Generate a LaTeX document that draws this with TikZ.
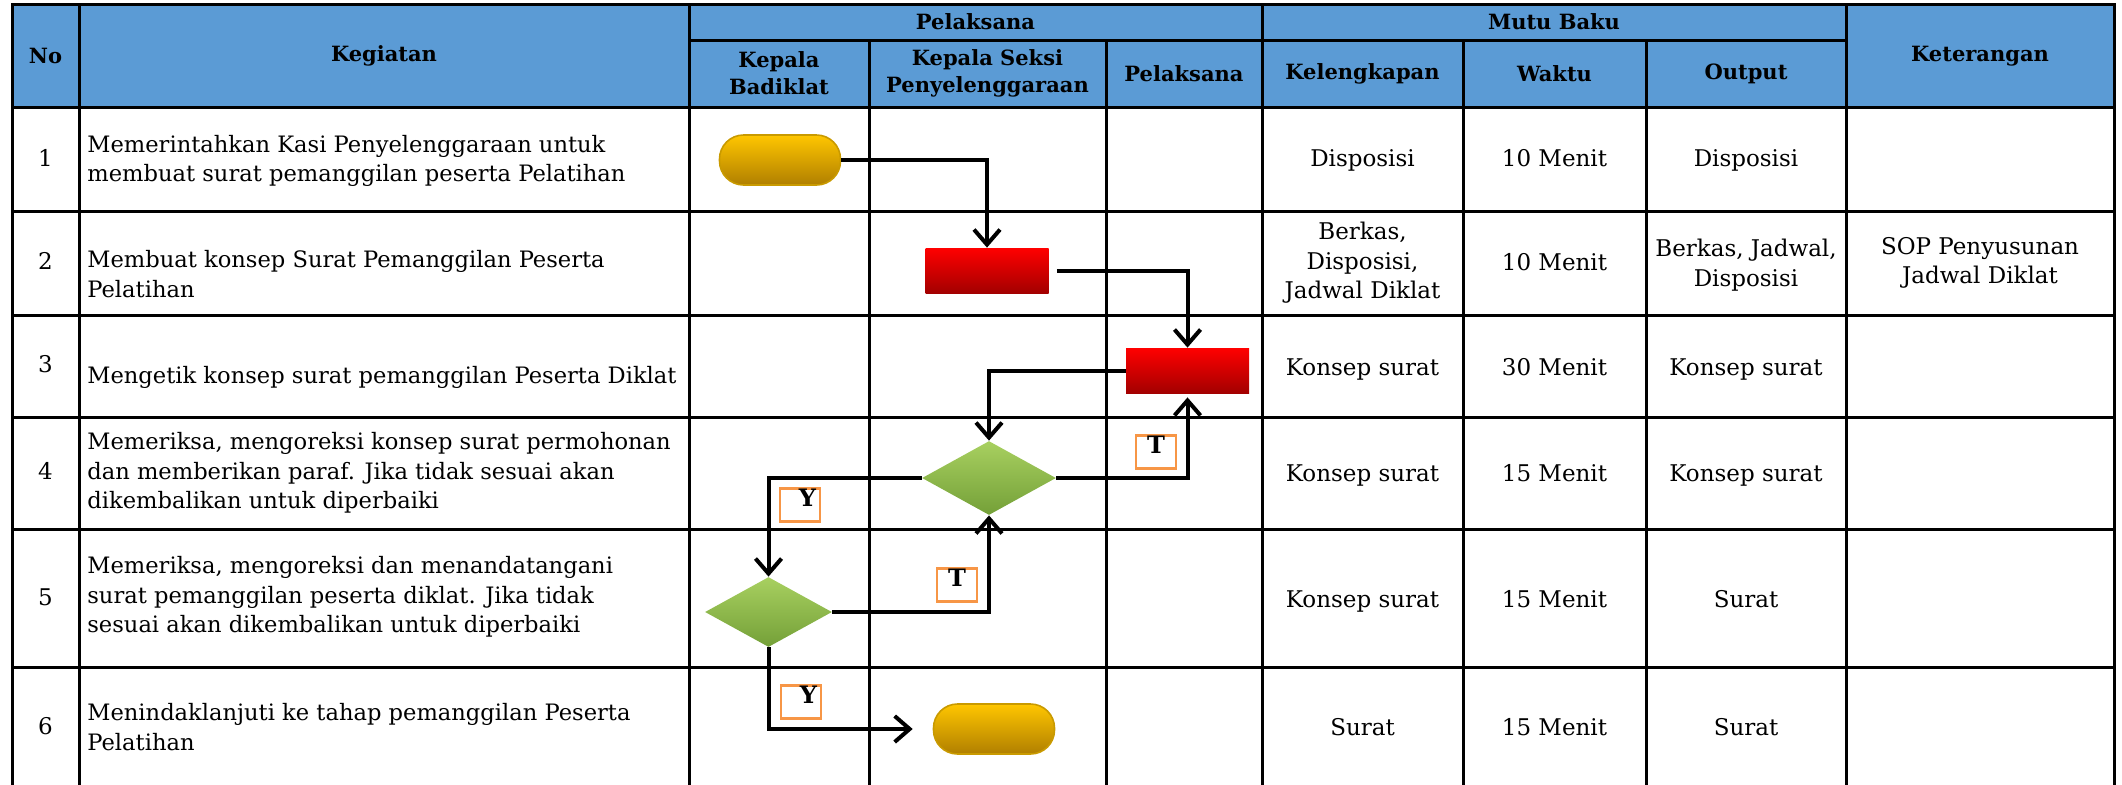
\documentclass[tikz,border=0pt]{standalone}
\usepackage{fontspec}
\setmainfont{DejaVu Serif}
\usetikzlibrary{arrows.meta,positioning,shapes.geometric,shapes.misc,calc}
\definecolor{cHead}{HTML}{5B9BD5}
\definecolor{cGoldTop}{HTML}{FFC600}
\definecolor{cGoldBot}{HTML}{B07F00}
\definecolor{cGoldLine}{HTML}{C99A00}
\definecolor{cRedTop}{HTML}{FF0000}
\definecolor{cRedBot}{HTML}{A30000}
\definecolor{cGreenTop}{HTML}{A8D060}
\definecolor{cGreenBot}{HTML}{74A038}
\definecolor{cTag}{HTML}{F79646}
\tikzset{
  tabline/.style={line width=1.5pt, line cap=rect},
  hd/.style={font=\fontsize{10.5}{13.5}\selectfont\bfseries, align=center, inner sep=0pt},
  txt/.style={font=\fontsize{11.3}{14.8}\selectfont, align=left, anchor=west, inner sep=0pt},
  cell/.style={font=\fontsize{11.5}{14.8}\selectfont, align=center, inner sep=0pt},
  cellone/.style={cell, text height=9pt, text depth=2pt},
}
\begin{document}
\begin{tikzpicture}[
  x=0.5pt, y=-0.5pt,
  term/.style={rectangle, rounded corners=12pt, minimum width=60.5pt, minimum height=25pt,
    top color=cGoldTop, bottom color=cGoldBot, draw=cGoldLine, line width=0.8pt},
  proc/.style={rectangle, minimum width=61.5pt, minimum height=22.5pt,
    top color=cRedTop, bottom color=cRedBot},
  dec/.style={diamond, inner sep=0pt, minimum width=67pt, minimum height=37pt,
    top color=cGreenTop, bottom color=cGreenBot},
  flow/.style={line width=2pt, -{Straight Barb[length=7.5pt, width=13pt]}},
  tagbox/.style={draw=cTag, line width=1.3pt, font=\fontsize{12}{12}\selectfont\bfseries,
    text width=16pt, inner xsep=2pt, inner ysep=0.3pt, text height=8.8pt, text depth=7pt},
]
\useasboundingbox (0,0) rectangle (2122,784);
% ---------------------------------------------------------------- table
\fill[cHead] (12,4) rectangle (2114,107);
\draw[tabline] (12,4) -- (2114,4);
\draw[tabline] (689,40) -- (1846,40);
\foreach \y in {107,211,315,417,529,667}
  \draw[tabline] (12,\y) -- (2114,\y);
\foreach \x in {12,79,689,1262,1846,2114}
  \draw[tabline] (\x,4) -- (\x,784);
\foreach \x in {869,1106,1463,1646}
  \draw[tabline] (\x,40) -- (\x,784);
% ---------------------------------------------------------------- header
\node[hd] (hNo) at (45.5,56) {No};
\node[hd] (hKeg) at (384,56) {Kegiatan};
\node[hd] (hPel) at (975.5,22) {Pelaksana};
\node[hd] (hMutu) at (1554,22) {Mutu Baku};
\node[hd] (hKB) at (779,73.5) {Kepala\\Badiklat};
\node[hd] (hKS) at (987.5,73.5) {Kepala Seksi\\Penyelenggaraan};
\node[hd] (hPl) at (1184,73.5) {Pelaksana};
\node[hd] (hKel) at (1362.5,73.5) {Kelengkapan};
\node[hd] (hWkt) at (1554.5,73.5) {Waktu};
\node[hd] (hOut) at (1746,73.5) {Output};
\node[hd] (hKet) at (1980,56) {Keterangan};
% ---------------------------------------------------------------- rows
\foreach \n/\y in {1/159,2/262,3/365,4/472,5/598,6/727}
  \node[cellone] (no\n) at (45.5,\y) {\n};
\node[txt] (k1) at (87,161) {Memerintahkan Kasi Penyelenggaraan untuk\\membuat surat pemanggilan peserta Pelatihan};
\node[txt] (k2) at (87,274) {Membuat konsep Surat Pemanggilan Peserta\\Pelatihan};
\node[txt] (k3) at (87,377) {Mengetik konsep surat pemanggilan Peserta Diklat};
\node[txt] (k4) at (87,473) {Memeriksa, mengoreksi konsep surat permohonan\\dan memberikan paraf. Jika tidak sesuai akan\\dikembalikan untuk diperbaiki};
\node[txt] (k5) at (87,597) {Memeriksa, mengoreksi dan menandatangani\\surat pemanggilan peserta diklat. Jika tidak\\sesuai akan dikembalikan untuk diperbaiki};
\node[txt] (k6) at (87,727) {Menindaklanjuti ke tahap pemanggilan Peserta\\Pelatihan};
% mutu baku
\node[cellone] (kel1) at (1362.5,159) {Disposisi};
\node[cellone] (wkt1) at (1554.5,159) {10 Menit};
\node[cellone] (out1) at (1746,159) {Disposisi};
\node[cell] (kel2) at (1362.5,263) {Berkas,\\Disposisi,\\Jadwal Diklat};
\node[cellone] (wkt2) at (1554.5,263) {10 Menit};
\node[cell] (out2) at (1746,265) {Berkas, Jadwal,\\Disposisi};
\node[cell] (ket2) at (1980,263) {SOP Penyusunan\\Jadwal Diklat};
\node[cellone] (kel3) at (1362.5,368) {Konsep surat};
\node[cellone] (wkt3) at (1554.5,368) {30 Menit};
\node[cellone] (out3) at (1746,368) {Konsep surat};
\node[cellone] (kel4) at (1362.5,474) {Konsep surat};
\node[cellone] (wkt4) at (1554.5,474) {15 Menit};
\node[cellone] (out4) at (1746,474) {Konsep surat};
\node[cellone] (kel5) at (1362.5,600) {Konsep surat};
\node[cellone] (wkt5) at (1554.5,600) {15 Menit};
\node[cellone] (out5) at (1746,600) {Surat};
\node[cellone] (kel6) at (1362.5,728) {Surat};
\node[cellone] (wkt6) at (1554.5,728) {15 Menit};
\node[cellone] (out6) at (1746,728) {Surat};
% ---------------------------------------------------------------- flow
\node[term] (start) at (780,160) {};
\node[proc] (buat) at (987,270.5) {};
\node[proc] (ketik) at (1187.5,370.5) {};
\node[dec] (cekKS) at (989,478) {};
\node[dec, minimum width=63.5pt, minimum height=35pt] (cekKB) at (768.5,612) {};
\node[term] (stop) at (994,729) {};
\draw[flow] (start.east) -| (buat.north);
\draw[flow, shorten <=4pt] (buat.east) -| (ketik.north);
\draw[flow] (ketik.west) -| (cekKS.north);
\draw[flow] (cekKS.west) -| (cekKB.north);
\draw[flow, shorten >=2pt] (cekKS.east) -| (ketik.south);
\draw[flow] (cekKB.east) -| (cekKS.south);
\draw[flow, shorten >=10pt] (cekKB.south) |- (stop.west);
% labels
\node[tagbox, align=center] (tag1) at (1156,452) {T};
\node[tagbox, align=right] (tag2) at (800,505) {Y};
\node[tagbox, align=center] (tag3) at (957,585) {T};
\node[tagbox, align=right] (tag4) at (801,702) {Y};
\end{tikzpicture}
\end{document}
